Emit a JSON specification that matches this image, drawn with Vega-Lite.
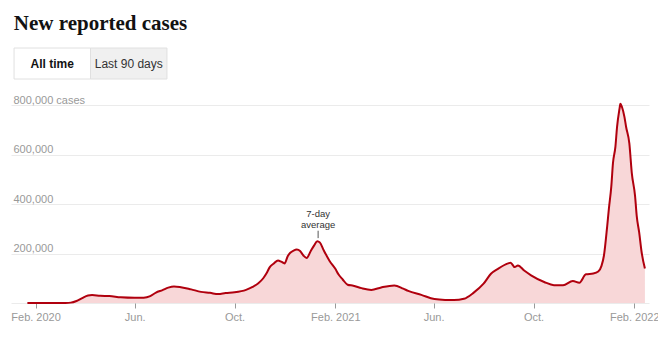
{
  "$schema": "https://vega.github.io/schema/vega-lite/v6.json",
  "padding": {"left": 10, "top": 12, "right": 0, "bottom": 0},
  "background": "white",
  "title": {"text": "New reported cases", "anchor": "start", "font": "Liberation Serif", "fontSize": 21, "fontWeight": "bold", "color": "#121212", "dx": 3, "offset": 14},
  "config": {"view": {"stroke": null}, "font": "Liberation Sans"},
  "spacing": 14,
  "vconcat": [
    {
      "width": 159,
      "height": 31,
      "data": {"values": [
        {"label": "All time", "state": "selected"},
        {"label": "Last 90 days", "state": "other"}
      ]},
      "encoding": {"x": {"field": "label", "type": "nominal", "sort": null, "axis": null, "scale": {"paddingInner": 0, "paddingOuter": 0.04}}},
      "layer": [
        {"mark": {"type": "rect", "stroke": "#e0e0e0", "strokeWidth": 1},
         "encoding": {"fill": {"field": "state", "type": "nominal", "scale": {"domain": ["selected", "other"], "range": ["#ffffff", "#f0f0f0"]}, "legend": null}}},
        {"transform": [{"filter": "datum.state == 'selected'"}],
         "mark": {"type": "text", "fontWeight": "bold", "fontSize": 12, "color": "#121212"},
         "encoding": {"text": {"field": "label"}}},
        {"transform": [{"filter": "datum.state == 'other'"}],
         "mark": {"type": "text", "fontSize": 12, "color": "#333333"},
         "encoding": {"text": {"field": "label"}}}
      ]
    },
    {
      "width": 638,
      "height": 198,
      "layer": [
        {
          "data": {"values": [
            {"date": "2020-01-22", "cases": 0},
            {"date": "2020-02-15", "cases": 0},
            {"date": "2020-03-01", "cases": 100},
            {"date": "2020-03-08", "cases": 400},
            {"date": "2020-03-15", "cases": 1500},
            {"date": "2020-03-22", "cases": 8000},
            {"date": "2020-03-29", "cases": 20000},
            {"date": "2020-04-05", "cases": 30000},
            {"date": "2020-04-10", "cases": 32000},
            {"date": "2020-04-20", "cases": 29000},
            {"date": "2020-05-01", "cases": 28000},
            {"date": "2020-05-15", "cases": 23000},
            {"date": "2020-06-01", "cases": 21000},
            {"date": "2020-06-12", "cases": 21500},
            {"date": "2020-06-20", "cases": 28000},
            {"date": "2020-06-27", "cases": 42000},
            {"date": "2020-07-05", "cases": 52000},
            {"date": "2020-07-12", "cases": 62000},
            {"date": "2020-07-19", "cases": 67000},
            {"date": "2020-07-26", "cases": 65000},
            {"date": "2020-08-09", "cases": 55000},
            {"date": "2020-08-21", "cases": 45000},
            {"date": "2020-09-01", "cases": 41000},
            {"date": "2020-09-11", "cases": 36000},
            {"date": "2020-09-20", "cases": 40000},
            {"date": "2020-10-01", "cases": 43000},
            {"date": "2020-10-15", "cases": 53000},
            {"date": "2020-10-23", "cases": 65000},
            {"date": "2020-10-30", "cases": 80000},
            {"date": "2020-11-05", "cases": 100000},
            {"date": "2020-11-09", "cases": 120000},
            {"date": "2020-11-13", "cases": 145000},
            {"date": "2020-11-18", "cases": 160000},
            {"date": "2020-11-23", "cases": 172000},
            {"date": "2020-11-27", "cases": 167000},
            {"date": "2020-12-01", "cases": 160000},
            {"date": "2020-12-05", "cases": 190000},
            {"date": "2020-12-08", "cases": 203000},
            {"date": "2020-12-12", "cases": 212000},
            {"date": "2020-12-16", "cases": 216000},
            {"date": "2020-12-20", "cases": 210000},
            {"date": "2020-12-24", "cases": 192000},
            {"date": "2020-12-28", "cases": 182000},
            {"date": "2021-01-02", "cases": 210000},
            {"date": "2021-01-06", "cases": 232000},
            {"date": "2021-01-10", "cases": 250000},
            {"date": "2021-01-13", "cases": 245000},
            {"date": "2021-01-18", "cases": 212000},
            {"date": "2021-01-25", "cases": 170000},
            {"date": "2021-02-01", "cases": 138000},
            {"date": "2021-02-05", "cases": 115000},
            {"date": "2021-02-10", "cases": 95000},
            {"date": "2021-02-16", "cases": 74000},
            {"date": "2021-02-23", "cases": 70000},
            {"date": "2021-03-05", "cases": 60000},
            {"date": "2021-03-17", "cases": 53000},
            {"date": "2021-03-29", "cases": 63000},
            {"date": "2021-04-14", "cases": 71000},
            {"date": "2021-04-25", "cases": 58000},
            {"date": "2021-05-01", "cases": 49000},
            {"date": "2021-05-17", "cases": 33000},
            {"date": "2021-06-02", "cases": 16000},
            {"date": "2021-06-15", "cases": 12500},
            {"date": "2021-06-26", "cases": 12000},
            {"date": "2021-07-08", "cases": 17000},
            {"date": "2021-07-20", "cases": 42000},
            {"date": "2021-08-01", "cases": 78000},
            {"date": "2021-08-10", "cases": 118000},
            {"date": "2021-08-19", "cases": 139000},
            {"date": "2021-08-31", "cases": 160000},
            {"date": "2021-09-03", "cases": 163000},
            {"date": "2021-09-08", "cases": 145000},
            {"date": "2021-09-12", "cases": 152000},
            {"date": "2021-09-20", "cases": 130000},
            {"date": "2021-09-28", "cases": 112000},
            {"date": "2021-10-14", "cases": 85000},
            {"date": "2021-10-26", "cases": 72000},
            {"date": "2021-11-06", "cases": 72000},
            {"date": "2021-11-18", "cases": 89000},
            {"date": "2021-11-26", "cases": 82000},
            {"date": "2021-12-04", "cases": 116000},
            {"date": "2021-12-13", "cases": 119000},
            {"date": "2021-12-19", "cases": 127000},
            {"date": "2021-12-23", "cases": 150000},
            {"date": "2021-12-26", "cases": 192000},
            {"date": "2021-12-30", "cases": 312000},
            {"date": "2022-01-01", "cases": 380000},
            {"date": "2022-01-04", "cases": 472000},
            {"date": "2022-01-06", "cases": 565000},
            {"date": "2022-01-09", "cases": 632000},
            {"date": "2022-01-11", "cases": 712000},
            {"date": "2022-01-14", "cases": 785000},
            {"date": "2022-01-15", "cases": 805000},
            {"date": "2022-01-17", "cases": 792000},
            {"date": "2022-01-20", "cases": 752000},
            {"date": "2022-01-22", "cases": 712000},
            {"date": "2022-01-26", "cases": 645000},
            {"date": "2022-01-29", "cases": 525000},
            {"date": "2022-02-02", "cases": 432000},
            {"date": "2022-02-04", "cases": 352000},
            {"date": "2022-02-07", "cases": 285000},
            {"date": "2022-02-10", "cases": 205000},
            {"date": "2022-02-14", "cases": 139000}
          ]},
          "encoding": {
            "x": {"field": "date", "type": "temporal",
              "scale": {"type": "utc", "domain": [{"year": 2020, "month": 1, "date": 2, "utc": true}, {"year": 2022, "month": 2, "date": 19, "utc": true}]},
              "axis": {"title": null, "domain": false, "grid": false, "tickColor": "#999999", "tickSize": 5, "labelColor": "#999999", "labelFontSize": 11, "labelPadding": 3, "labelFlush": false,
                "values": [
                  {"year": 2020, "month": 2, "date": 1, "utc": true},
                  {"year": 2020, "month": 6, "date": 1, "utc": true},
                  {"year": 2020, "month": 10, "date": 1, "utc": true},
                  {"year": 2021, "month": 2, "date": 1, "utc": true},
                  {"year": 2021, "month": 6, "date": 1, "utc": true},
                  {"year": 2021, "month": 10, "date": 1, "utc": true},
                  {"year": 2022, "month": 2, "date": 1, "utc": true}
                ],
                "labelExpr": "utcmonth(datum.value) == 1 ? 'Feb. ' + utcyear(datum.value) : (utcmonth(datum.value) == 5 ? 'Jun.' : 'Oct.')"}},
            "y": {"field": "cases", "type": "quantitative",
              "scale": {"domain": [0, 800000], "nice": false},
              "axis": {"title": null, "domain": false, "ticks": false, "grid": true, "gridColor": "#ebebeb", "labelAlign": "left", "labelBaseline": "bottom", "labelPadding": -2, "labelColor": "#999999", "labelFontSize": 11, "labelFlush": false,
                "values": [0, 200000, 400000, 600000, 800000],
                "labelExpr": "datum.value == 0 ? '' : (datum.value == 800000 ? '800,000 cases' : format(datum.value, ','))"}}
          },
          "layer": [
            {"mark": {"type": "area", "color": "#f8d7d8", "interpolate": "monotone"}},
            {"mark": {"type": "line", "color": "#b0000e", "strokeWidth": 2, "interpolate": "monotone"}}
          ]
        },
        {
          "data": {"values": [{"date": "2021-01-11", "lo": 262000, "hi": 292000, "note": ["7-day", "average"]}]},
          "layer": [
            {"mark": {"type": "rule", "color": "#555555", "strokeWidth": 1},
             "encoding": {
               "x": {"field": "date", "type": "temporal"},
               "y": {"field": "lo", "type": "quantitative"},
               "y2": {"field": "hi"}
             }},
            {"mark": {"type": "text", "baseline": "bottom", "align": "center", "fontSize": 9.5, "color": "#333333", "dy": -12, "lineHeight": 11},
             "encoding": {
               "x": {"field": "date", "type": "temporal"},
               "y": {"field": "hi", "type": "quantitative"},
               "text": {"field": "note"}
             }}
          ]
        }
      ]
    }
  ]
}
